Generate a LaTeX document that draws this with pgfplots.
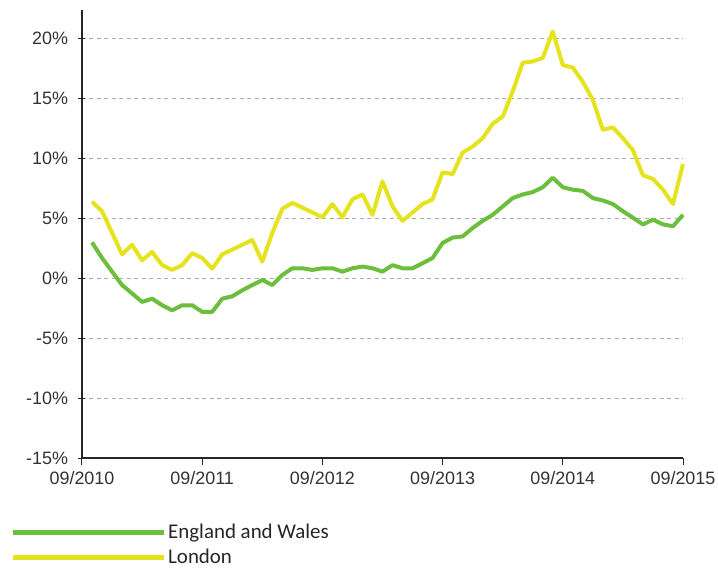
\documentclass[border=0pt]{standalone}
\usepackage{fontspec}
\setmainfont{Liberation Sans}
\newfontfamily\legfont{Carlito}
\usepackage{pgfplots}
\pgfplotsset{compat=1.18}
\definecolor{ewgreen}{HTML}{6CBF3C}
\definecolor{ldnyellow}{HTML}{E4E31E}
\definecolor{labgray}{HTML}{333333}
\begin{document}
\begin{tikzpicture}
\begin{axis}[
  at={(0,0)}, anchor=south west,
  scale only axis, width=601bp, height=448bp,
  xmin=0, xmax=60, ymin=-15, ymax=22.4,
  axis x line=bottom, axis y line=left,
  axis line style={-, line width=1.2bp, black!85},
  xtick={0,12,24,36,48,60},
  xticklabels={09/2010,09/2011,09/2012,09/2013,09/2014,09/2015},
  ytick={-15,-10,-5,0,5,10,15,20},
  yticklabels={-15\%,-10\%,-5\%,0\%,5\%,10\%,15\%,20\%},
  x tick style={line width=1bp, black!85}, xtick align=outside,
  y tick style={line width=1bp, black!85}, ytick align=center,
  major tick length=7bp,
  ticklabel style={font=\fontsize{18}{21}\selectfont, text=labgray},
  xticklabel style={yshift=-3bp},
  yticklabel style={xshift=-7bp},
  ymajorgrids,
  grid style={dash pattern=on 4bp off 3.5bp, line width=1.2bp, gray!65},
  clip=false,
  legend style={at={(axis description cs:0,0)}, anchor=north west,
    xshift=-72bp, yshift=-64bp, draw=none, fill=none,
    font=\legfont\fontsize{21}{24}\selectfont, text=black!85,
    row sep=5bp, inner sep=0pt},
  legend cell align=left,
  legend image code/.code={\draw[#1, line width=5bp] (0bp,0bp) -- (151bp,0bp);},
]
\addplot[ewgreen, line width=4bp, line join=round] coordinates {
(1,3.0) (2,1.7) (3,0.56) (4,-0.56) (5,-1.26) (6,-1.97) (7,-1.7) (8,-2.25)
(9,-2.67) (10,-2.25) (11,-2.25) (12,-2.8) (13,-2.8) (14,-1.7) (15,-1.5)
(16,-1.0) (17,-0.56) (18,-0.14) (19,-0.56) (20,0.28) (21,0.84) (22,0.84)
(23,0.7) (24,0.84) (25,0.84) (26,0.56) (27,0.84) (28,0.98) (29,0.84)
(30,0.56) (31,1.1) (32,0.84) (33,0.84) (34,1.26) (35,1.7) (36,2.95)
(37,3.4) (38,3.5) (39,4.2) (40,4.8) (41,5.3) (42,6.0) (43,6.7) (44,7.0)
(45,7.2) (46,7.6) (47,8.4) (48,7.6) (49,7.4) (50,7.3) (51,6.7) (52,6.5)
(53,6.2) (54,5.6) (55,5.06) (56,4.5) (57,4.9) (58,4.5) (59,4.35) (60,5.3)
};
\addlegendentry{England and Wales}
\addplot[ldnyellow, line width=4bp, line join=round] coordinates {
(1,6.4) (2,5.6) (3,3.8) (4,2.0) (5,2.8) (6,1.5) (7,2.2) (8,1.1) (9,0.7)
(10,1.1) (11,2.1) (12,1.7) (13,0.8) (14,2.0) (15,2.4) (16,2.8) (17,3.2)
(18,1.4) (19,3.8) (20,5.8) (21,6.3) (22,5.9) (23,5.5) (24,5.1) (25,6.2)
(26,5.1) (27,6.6) (28,7.0) (29,5.3) (30,8.1) (31,6.0) (32,4.8) (33,5.5)
(34,6.2) (35,6.6) (36,8.85) (37,8.7) (38,10.5) (39,11.0) (40,11.7)
(41,12.9) (42,13.5) (43,15.6) (44,18.0) (45,18.1) (46,18.4) (47,20.6)
(48,17.8) (49,17.6) (50,16.4) (51,14.9) (52,12.4) (53,12.6) (54,11.7)
(55,10.7) (56,8.6) (57,8.3) (58,7.4) (59,6.2) (60,9.55)
};
\addlegendentry{London}
\end{axis}
\pgfresetboundingbox
\useasboundingbox (-82bp,-111bp) rectangle (636bp,458bp);
\end{tikzpicture}
\end{document}
